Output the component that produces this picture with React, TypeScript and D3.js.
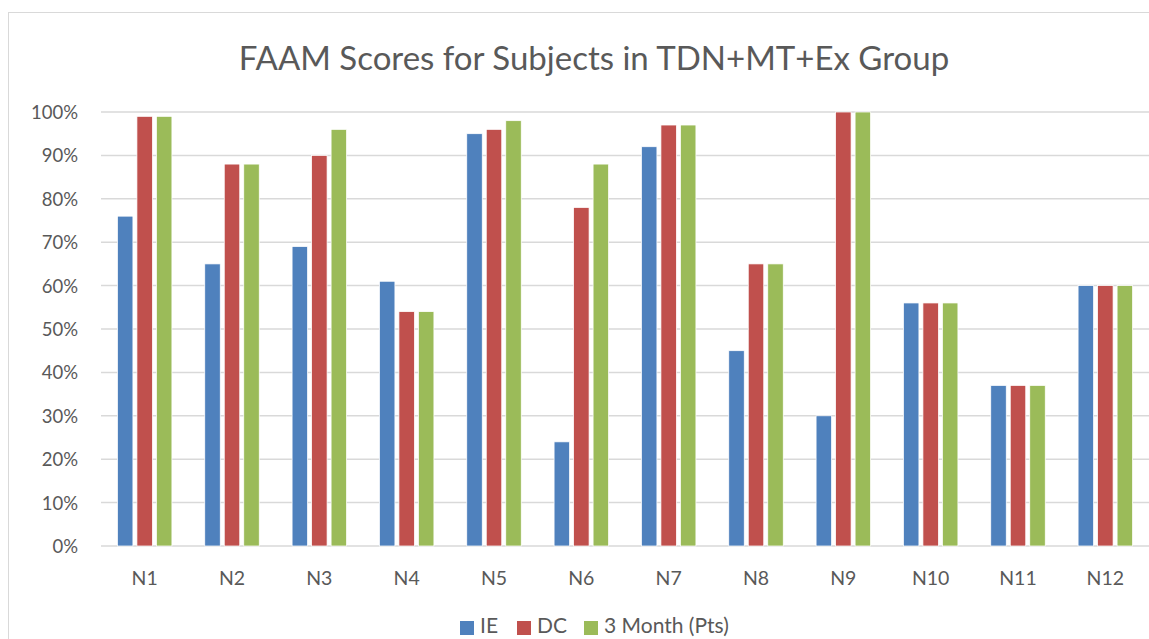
import React from "react";
import * as d3 from "d3";

const categories = ["N1", "N2", "N3", "N4", "N5", "N6", "N7", "N8", "N9", "N10", "N11", "N12"];
const seriesNames = ["IE", "DC", "3 Month (Pts)"];
const ieValues = [0.76, 0.65, 0.69, 0.61, 0.95, 0.24, 0.92, 0.45, 0.30, 0.56, 0.37, 0.60];
const dcValues = [0.99, 0.88, 0.90, 0.54, 0.96, 0.78, 0.97, 0.65, 1.00, 0.56, 0.37, 0.60];
const m3Values = [0.99, 0.88, 0.96, 0.54, 0.98, 0.88, 0.97, 0.65, 1.00, 0.56, 0.37, 0.60];
const yTicks = [0, 0.1, 0.2, 0.3, 0.4, 0.5, 0.6, 0.7, 0.8, 0.9, 1.0];
const colors = ["#4f81bd", "#c0504d", "#9bbb59"];
const title = "FAAM Scores for Subjects in TDN+MT+Ex Group";

const W = 1149;
const H = 639;
const FONT = "Lato, 'Open Sans', sans-serif";
const TXT = "#595959";

export default function App() {
  const plotLeft = 101;
  const plotRight = 1149;
  const plotTop = 112;
  const plotBottom = 546;
  const x = d3.scaleBand<string>().domain(categories).range([plotLeft, plotRight]).paddingInner(0).paddingOuter(0);
  const y = d3.scaleLinear().domain([0, 1]).range([plotBottom, plotTop]);
  const allSeries = [ieValues, dcValues, m3Values];
  const fmt = d3.format(".0%");
  const slotW = 19.5;
  const barW = 15.5;

  const legendItems = [
    { name: seriesNames[0], x: 460 },
    { name: seriesNames[1], x: 517 },
    { name: seriesNames[2], x: 584 },
  ];

  return (
    <svg width={W} height={H} style={{ position: "absolute", left: 0, top: 0, background: "#fff" }}>
      <rect x={8.5} y={12.5} width={W + 20} height={H + 20} fill="#fff" stroke="#d9d9d9" strokeWidth={1} />
      <text x={594} y={70} textAnchor="middle" fontFamily={FONT} fontSize={33} fill={TXT}>{title}</text>
      {yTicks.map((t) => (
        <g key={t}>
          <line x1={plotLeft} x2={plotRight} y1={y(t)} y2={y(t)} stroke="#d9d9d9" strokeWidth={1.5} />
          <text x={78} y={y(t) + 7} textAnchor="end" fontFamily={FONT} fontSize={18.5} fill={TXT}>{fmt(t)}</text>
        </g>
      ))}
      {categories.map((c, i) => {
        const cx = (x(c) as number) + x.bandwidth() / 2;
        return (
          <g key={c}>
            {allSeries.map((vals, s) => {
              const bx = cx + (s - 1) * slotW - barW / 2;
              return (
                <rect key={s} x={bx} y={y(vals[i])} width={barW} height={plotBottom - y(vals[i])}
                  fill={colors[s]} stroke="#fff" strokeWidth={0.75} />
              );
            })}
            <text x={cx} y={584.5} textAnchor="middle" fontFamily={FONT} fontSize={19.5} fill={TXT}>{c}</text>
          </g>
        );
      })}
      {legendItems.map((it, i) => (
        <g key={it.name}>
          <rect x={it.x} y={621} width={14} height={14} fill={colors[i]} />
          <text x={it.x + 20} y={633} fontFamily={FONT} fontSize={21} fill={TXT}>{it.name}</text>
        </g>
      ))}
    </svg>
  );
}
